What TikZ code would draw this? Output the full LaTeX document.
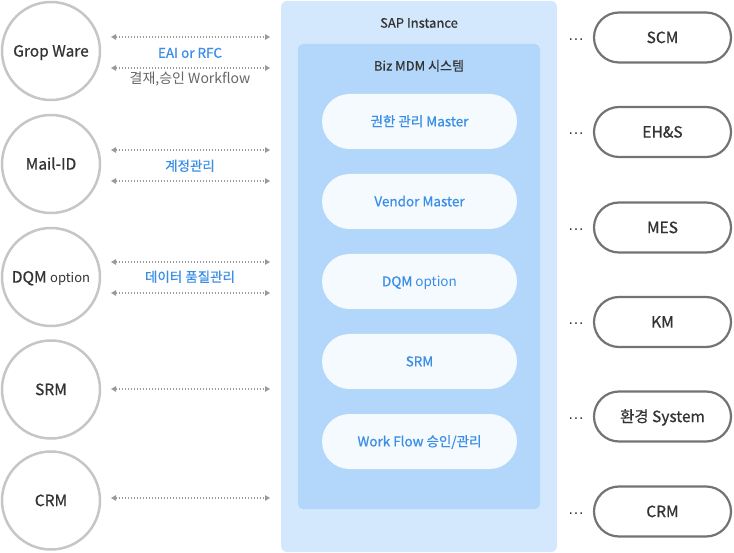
\documentclass[tikz,border=0pt]{standalone}
\usepackage{fontspec}
\setmainfont{Noto Sans CJK KR}
\newfontfamily\medfont{Noto Sans CJK KR}[FakeBold=0.7]
\newfontfamily\dotfont{DejaVu Sans}
\usetikzlibrary{arrows.meta}
\definecolor{sapbg}{HTML}{D4E8FD}
\definecolor{mdmbg}{HTML}{B3D7FB}
\definecolor{pillbg}{HTML}{F5FAFF}
\definecolor{pilltxt}{HTML}{3A8EE6}
\definecolor{circline}{HTML}{C6C6C6}
\definecolor{extline}{HTML}{737373}
\definecolor{arrcol}{HTML}{9A9A9A}
\definecolor{darktxt}{HTML}{333333}
\definecolor{graytxt}{HTML}{666666}
\begin{document}
\begin{tikzpicture}[x=1pt,y=-1pt,
  circ/.style={circle,draw=circline,line width=2.5pt,minimum size=98pt,inner sep=0pt,
    text=darktxt,font=\medfont\fontsize{15.5}{18}\selectfont,text height=12.4pt,text depth=1.2pt},
  sapbox/.style={fill=sapbg,rounded corners=6pt,minimum width=276pt,minimum height=551pt,inner sep=0pt},
  mdmbox/.style={fill=mdmbg,rounded corners=5pt,minimum width=242pt,minimum height=465pt,inner sep=0pt},
  pill/.style={fill=pillbg,rounded corners=27.5pt,minimum width=195pt,minimum height=55pt,inner sep=0pt,
    text=pilltxt,font=\medfont\fontsize{13.5}{16}\selectfont,text height=10.8pt,text depth=1.1pt},
  ext/.style={draw=extline,line width=2.2pt,fill=white,rounded corners=25pt,minimum width=137pt,minimum height=50pt,
    inner sep=0pt,text=darktxt,font=\medfont\fontsize{15.5}{18}\selectfont,text height=12.4pt,text depth=1.2pt},
  dotsn/.style={text=darktxt,font=\dotfont\fontsize{14}{16}\selectfont,inner sep=0pt,text height=14pt,text depth=0pt},
  title/.style={text=darktxt,font=\medfont\fontsize{13}{16}\selectfont,inner sep=0pt,text height=10.4pt,text depth=1pt},
  lbl/.style={text=pilltxt,font=\medfont\fontsize{13.5}{16}\selectfont,inner sep=0pt,text height=10.8pt,text depth=1.1pt},
  lblgray/.style={text=graytxt,font=\fontsize{14}{16}\selectfont,inner sep=0pt,text height=11.2pt,text depth=1.1pt},
  darr/.style={draw=arrcol,line width=1.2pt,dash pattern=on 1.2pt off 1.8pt,
    {Triangle[length=5pt,width=5.5pt]}-{Triangle[length=5pt,width=5.5pt]}}
]
\useasboundingbox (0,0) rectangle (734,553);

% SAP instance and MDM boxes
\node[sapbox] (sap) at (419,276.5) {};
\node[title] (saptitle) at (419,23) {SAP Instance};
\node[mdmbox] (mdm) at (419,276.5) {};
\node[title] (mdmtitle) at (419,66) {Biz MDM 시스템};

% inner pills
\node[pill] (p1) at (419.5,121.5) {권한 관리 Master};
\node[pill] (p2) at (419.5,201.5) {Vendor Master};
\node[pill] (p3) at (419.5,281.5) {DQM {\normalfont\fontsize{13.5}{16}\selectfont option}};
\node[pill] (p4) at (419.5,361.5) {SRM};
\node[pill] (p5) at (419.5,441.5) {Work Flow 승인/관리};

% left circles
\node[circ] (gw) at (51,51) {Grop Ware};
\node[circ] (mail) at (51,164) {Mail-ID};
\node[circ] (dqm) at (51,277) {DQM {\normalfont\fontsize{13}{16}\selectfont option}};
\node[circ] (srm) at (51,389.5) {SRM};
\node[circ] (crm) at (51,500.5) {CRM};

% arrow end coordinates
\coordinate (a1l) at (111,37);   \coordinate (a1r) at (270,37);
\coordinate (a2l) at (111,68);   \coordinate (a2r) at (270,68);
\coordinate (a3l) at (111,150);  \coordinate (a3r) at (270,150);
\coordinate (a4l) at (111,181);  \coordinate (a4r) at (270,181);
\coordinate (a5l) at (111,262);  \coordinate (a5r) at (270,262);
\coordinate (a6l) at (111,293);  \coordinate (a6r) at (270,293);
\coordinate (a7l) at (111,389);  \coordinate (a7r) at (270,389);
\coordinate (a8l) at (111,498);  \coordinate (a8r) at (270,498);
\foreach \i in {1,...,8} {\draw[darr] (a\i l) -- (a\i r);}

% labels
\node[lbl] (l1) at (190,53) {EAI or RFC};
\node[lblgray] (l2) at (190,78) {결재,승인 Workflow};
\node[lbl] (l3) at (190,166) {계정관리};
\node[lbl] (l4) at (190,277) {데이터 품질관리};

% right external systems
\node[ext] (e1) at (662.5,37.5) {SCM};
\node[ext] (e2) at (662.5,132) {EH\&S};
\node[ext] (e3) at (662.5,227.5) {MES};
\node[ext] (e4) at (662.5,322) {KM};
\node[ext] (e5) at (662.5,416.5) {환경 System};
\node[ext] (e6) at (662.5,511.5) {CRM};
\node[dotsn] (d1) at (576,37.5) {·\kern0.8pt·\kern0.8pt·};
\node[dotsn] (d2) at (576,132) {·\kern0.8pt·\kern0.8pt·};
\node[dotsn] (d3) at (576,227.5) {·\kern0.8pt·\kern0.8pt·};
\node[dotsn] (d4) at (576,322) {·\kern0.8pt·\kern0.8pt·};
\node[dotsn] (d5) at (576,416.5) {·\kern0.8pt·\kern0.8pt·};
\node[dotsn] (d6) at (576,511.5) {·\kern0.8pt·\kern0.8pt·};
\end{tikzpicture}
\end{document}
